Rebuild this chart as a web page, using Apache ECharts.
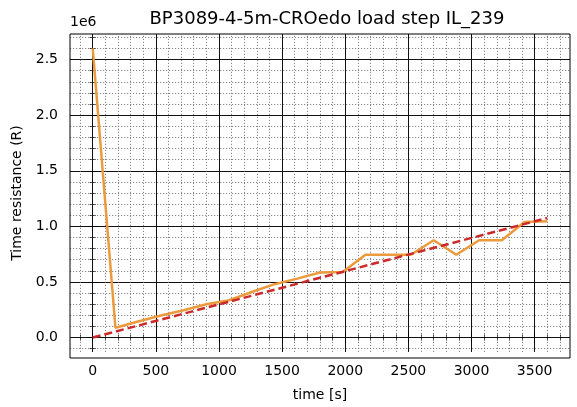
<!DOCTYPE html>
<html>
<head>
<meta charset="utf-8">
<script src="https://cdn.jsdelivr.net/npm/echarts@6/dist/echarts.min.js"></script>
<style>html,body{margin:0;padding:0;background:#fff}#c{width:577px;height:407px}</style>
</head>
<body>
<div id="c"></div>
<script>
// Data (time in seconds, resistance in R)
const times = [0, 180, 360, 540, 720, 900, 1080, 1260, 1440, 1620, 1800, 1980, 2160, 2340, 2520, 2700, 2880, 3060, 3240, 3420, 3600];
const resistance = [2600000, 88000, 145000, 198000, 245000, 300000, 335000, 410000, 480000, 530000, 585000, 590000, 745000, 745000, 745000, 875000, 745000, 875000, 875000, 1040000, 1045000];
const fitTimes = [0, 3600];
const fitValues = [0, 1075000];
const xMajorTicks = [0, 500, 1000, 1500, 2000, 2500, 3000, 3500];
const yMajorTicks = [0, 500000, 1000000, 1500000, 2000000, 2500000];
const xMinorTicks = [];
for (let v = -100; v <= 3700; v += 100) if (v % 500 !== 0) xMinorTicks.push(v);
const yMinorTicks = [];
for (let v = -100000; v <= 2700000; v += 100000) if (v % 500000 !== 0) yMinorTicks.push(v);

const X_MIN = -180, X_MAX = 3780, Y_MIN = -130000, Y_MAX = 2730000;
const FONT = 'DejaVu Sans';

function xAx(pos, ticks, opts) {
  return Object.assign({
    type: 'value', position: pos, min: X_MIN, max: X_MAX,
    axisLine: { show: false },
    axisTick: { show: true, inside: false, length: 5, customValues: ticks, lineStyle: { color: '#000', width: 1 } },
    axisLabel: { show: false, customValues: ticks },
    splitLine: { show: false }
  }, opts);
}
function yAx(pos, ticks, opts) {
  return Object.assign({
    type: 'value', position: pos, min: Y_MIN, max: Y_MAX,
    axisLine: { show: false },
    axisTick: { show: true, inside: false, length: 5, customValues: ticks, lineStyle: { color: '#000', width: 1 } },
    axisLabel: { show: false, customValues: ticks },
    splitLine: { show: false }
  }, opts);
}

const minorStyle = { color: '#6a6a6a', width: 0.8, type: [1.2, 1.8] };
const minorMarks = xMinorTicks.map(v => ({ xAxis: v })).concat(yMinorTicks.map(v => ({ yAxis: v })));

const chart = echarts.init(document.getElementById('c'), null, { renderer: 'canvas' });
chart.setOption({
  animation: false,
  backgroundColor: '#fff',
  title: {
    text: 'BP3089-4-5m-CROedo load step IL_239',
    left: 322, top: 5, textAlign: 'center',
    textStyle: { fontFamily: FONT, fontSize: 18, fontWeight: 'normal', color: '#000' }
  },
  graphic: [
    { type: 'text', left: 70, top: 15, style: { text: '1e6', font: '14px "DejaVu Sans"', fill: '#000' } },
    { type: 'rect', shape: { x: 70, y: 34, width: 500, height: 324 }, style: { fill: 'none', stroke: '#000', lineWidth: 1 }, z: 100 }
  ],
  grid: { left: 70, right: 7, top: 34, bottom: 49, containLabel: false },
  xAxis: [
    xAx('bottom', xMajorTicks, {
      name: 'time [s]', nameLocation: 'middle', nameGap: 36,
      nameTextStyle: { fontFamily: FONT, fontSize: 14, color: '#000' },
      axisLabel: { show: true, customValues: xMajorTicks, margin: 12, fontFamily: FONT, fontSize: 14, color: '#000',
        formatter: v => String(v) },
      splitLine: { show: true, lineStyle: { color: '#111', width: 1, type: 'solid' } }
    }),
    xAx('bottom', xMinorTicks, {
      axisTick: { show: true, inside: false, length: 3, customValues: xMinorTicks, lineStyle: { color: '#000', width: 0.8 } }
    }),
    xAx('top', xMajorTicks, {}),
    xAx('top', xMinorTicks, {
      axisTick: { show: true, inside: false, length: 3, customValues: xMinorTicks, lineStyle: { color: '#000', width: 0.8 } }
    })
  ],
  yAxis: [
    yAx('left', yMajorTicks, {
      name: 'Time resistance (R)', nameLocation: 'middle', nameGap: 37,
      nameTextStyle: { fontFamily: FONT, fontSize: 14, color: '#000' },
      axisLabel: { show: true, customValues: yMajorTicks, margin: 12, fontFamily: FONT, fontSize: 14, color: '#000',
        formatter: v => (v / 1e6).toFixed(1) },
      splitLine: { show: true, lineStyle: { color: '#111', width: 1, type: 'solid' } }
    }),
    yAx('left', yMinorTicks, {
      axisTick: { show: true, inside: false, length: 3, customValues: yMinorTicks, lineStyle: { color: '#000', width: 0.8 } }
    }),
    yAx('right', yMajorTicks, {}),
    yAx('right', yMinorTicks, {
      axisTick: { show: true, inside: false, length: 3, customValues: yMinorTicks, lineStyle: { color: '#000', width: 0.8 } }
    })
  ],
  series: [
    {
      type: 'line', xAxisIndex: 0, yAxisIndex: 0, data: [], z: 1, silent: true,
      markLine: { silent: true, symbol: 'none', animation: false, label: { show: false },
        lineStyle: minorStyle, emphasis: { disabled: true }, data: minorMarks }
    },
    {
      type: 'line', xAxisIndex: 0, yAxisIndex: 0,
      data: times.map((t, i) => [t, resistance[i]]),
      showSymbol: false, symbol: 'none',
      lineStyle: { color: '#eb9a3c', width: 2.5 }, z: 5
    },
    {
      type: 'line', xAxisIndex: 0, yAxisIndex: 0,
      data: fitTimes.map((t, i) => [t, fitValues[i]]),
      showSymbol: false, symbol: 'none',
      lineStyle: { color: '#cc2a2a', width: 2.5, type: [8, 4] }, z: 6
    }
  ]
});
</script>
</body>
</html>
